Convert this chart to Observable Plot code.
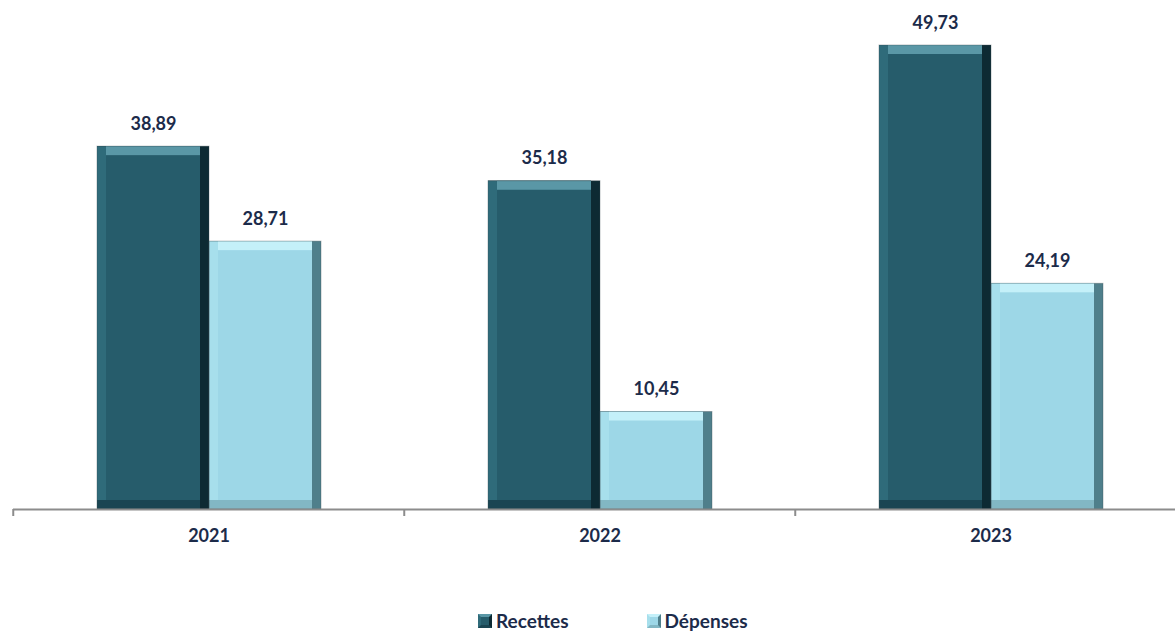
<!DOCTYPE html>
<html>
<head>
<meta charset="utf-8">
<script src="https://cdn.jsdelivr.net/npm/d3@7"></script>
<script src="https://cdn.jsdelivr.net/npm/@observablehq/plot@0.6"></script>
<style>
  html, body { margin: 0; padding: 0; background: #fff; }
  #chart { width: 1175px; overflow: hidden; }
  .legend { display: flex; align-items: center; margin-left: 478px; margin-top: 20px; font-family: Lato, "Open Sans", sans-serif; font-weight: bold; font-size: 19px; line-height: 22px; color: #1c2b4a; }
  .legend .item { display: flex; align-items: center; }
  .legend .sw { width: 14px; height: 14px; margin-right: 4px; box-sizing: border-box; }
</style>
</head>
<body>
<div id="chart"></div>
<script>
const years = ["2021", "2022", "2023"];
const series = ["Recettes", "Dépenses"];
const recettes = [38.89, 35.18, 49.73];
const depenses = [28.71, 10.45, 24.19];

const palette = {
  Recettes: {right: "#0d2a33", bottom: "#1a4552", left: "#2f6b7a", top: "#5a97a6", main: "#265c6b"},
  "Dépenses": {right: "#4f7f8b", bottom: "#82b7c4", left: "#a7dfec", top: "#c4f0f9", main: "#9dd7e7"}
};

const data = [];
years.forEach((y, i) => {
  data.push({year: y, series: "Recettes", value: recettes[i]});
  data.push({year: y, series: "Dépenses", value: depenses[i]});
});

const fmt = v => v.toFixed(2).replace(".", ",");
const fxRange = [12, 1186.5];
const step = (fxRange[1] - fxRange[0]) / years.length;
const b = 9;
const textColor = "#1c2b4a";
const font = "Lato, 'Open Sans', sans-serif";

const layer = (key, insets) => Plot.barY(data, {
  fx: "year", x: "series", y: "value",
  fill: d => palette[d.series][key],
  ...insets
});

const chart = Plot.plot({
  width: 1175,
  height: 590,
  marginTop: 42.5,
  marginBottom: 81,
  marginLeft: 12,
  marginRight: 0,
  style: {fontFamily: font, background: "#fff"},
  fx: {domain: years, range: fxRange, padding: 0, axis: null, label: null},
  x: {domain: series, paddingInner: 0.004, paddingOuter: 0.745, axis: null, label: null},
  y: {domain: [0, 50], axis: null},
  marks: [
    layer("right", {}),
    layer("bottom", {insetRight: b}),
    layer("left", {insetRight: b, insetBottom: b}),
    layer("top", {insetRight: b, insetBottom: b, insetLeft: b}),
    layer("main", {insetRight: b, insetBottom: b, insetLeft: b, insetTop: b}),
    Plot.barY(data, {fx: "year", x: "series", y: "value", fill: "none", stroke: "#3b4b50", strokeOpacity: 0.35, strokeWidth: 1}),
    Plot.ruleY([0], {stroke: "#8c8c8c", strokeWidth: 2}),
    Plot.axisFx({anchor: "bottom", text: null, tickSize: 7, dx: -step / 2, stroke: "#8c8c8c", strokeWidth: 2, label: null}),
    Plot.axisFx({anchor: "bottom", tickSize: 0, tickPadding: 20, fontSize: 18, fontWeight: "bold", fill: textColor, label: null}),
    Plot.text(data, {
      fx: "year", x: "series", y: "value",
      text: d => fmt(d.value),
      dy: -17, lineAnchor: "bottom",
      fontSize: 18, fontWeight: "bold", fill: textColor
    })
  ]
});
document.getElementById("chart").appendChild(chart);

const legend = document.createElement("div");
legend.className = "legend";
series.forEach((s, i) => {
  const item = document.createElement("div");
  item.className = "item";
  if (i > 0) item.style.marginLeft = "78px";
  const sw = document.createElement("div");
  sw.className = "sw";
  const p = palette[s];
  sw.style.background = p.main;
  sw.style.borderTop = `3px solid ${p.top}`;
  sw.style.borderLeft = `3px solid ${p.left}`;
  sw.style.borderRight = `3px solid ${p.right}`;
  sw.style.borderBottom = `3px solid ${p.bottom}`;
  const label = document.createElement("span");
  label.textContent = s;
  item.appendChild(sw);
  item.appendChild(label);
  legend.appendChild(item);
});
document.getElementById("chart").appendChild(legend);
</script>
</body>
</html>
